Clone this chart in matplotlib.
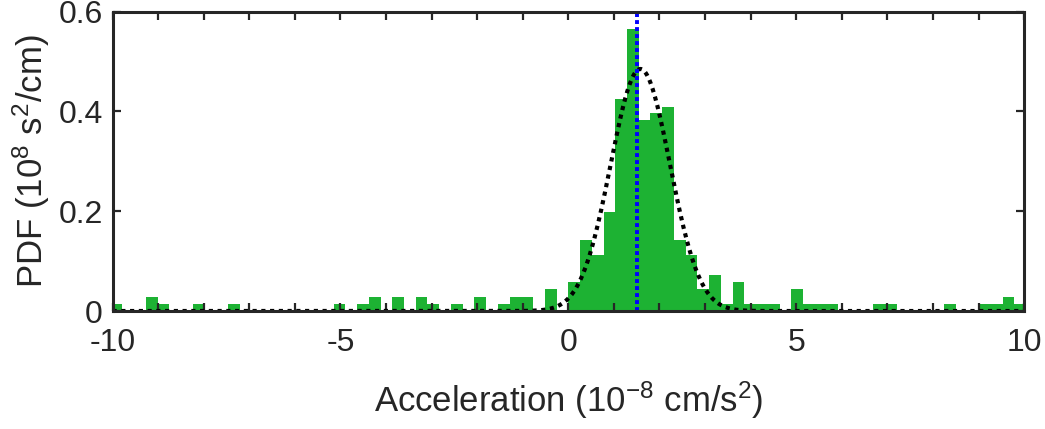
import numpy as np
import matplotlib
matplotlib.use("Agg")
from matplotlib import pyplot as plt
from matplotlib.ticker import MultipleLocator, FuncFormatter

plt.rcParams['font.family'] = ['Liberation Sans', 'DejaVu Sans']
plt.rcParams['mathtext.default'] = 'regular'
plt.rcParams['axes.unicode_minus'] = False

# Histogram bins (10^-8 cm/s^2) and PDF heights
BIN_WIDTH = 0.2575
BIN_INDEX = np.arange(-39, 39)
PDF = [
    0.0145, 0, 0, 0.029, 0.0145, 0, 0, 0.0145, 0, 0,          # -39 .. -30
    0.0145, 0, 0, 0, 0, 0, 0, 0, 0, 0.0145,                    # -29 .. -20
    0, 0.0145, 0.029, 0, 0.029, 0, 0.029, 0.0145, 0, 0.0145,   # -19 .. -10
    0, 0.029, 0, 0.0145, 0.029, 0.029, 0, 0.0435, 0,           # -9 .. -1
    0.058, 0.142, 0.113, 0.199, 0.424, 0.565, 0.382, 0.396,    # 0 .. 7
    0.409, 0.142, 0.113, 0.0435, 0.072, 0.0145, 0.058,         # 8 .. 14
    0.0145, 0.0145, 0.0145, 0, 0.0435, 0.0145, 0.0145, 0.0145, # 15 .. 22
    0, 0, 0, 0.0145, 0.0145, 0, 0, 0, 0, 0.0145,               # 23 .. 32
    0, 0, 0.0145, 0.0145, 0.029, 0.0145,                       # 33 .. 38
]

# Normal fit drawn over the histogram, and the mean marker
FIT_PEAK = 0.485
FIT_MEAN = 1.58
FIT_SIGMA = 0.65
MEAN_LINE = 1.5

GREEN = '#1db233'
AXIS_COLOR = '#262626'

fig = plt.figure(figsize=(10.45, 4.29), dpi=100)
ax = fig.add_axes([0.1077, 0.275, 0.8723, 0.698])

left_edges = BIN_INDEX * BIN_WIDTH
ax.bar(left_edges, PDF, width=BIN_WIDTH, align='edge', color=GREEN,
       edgecolor='none', linewidth=0, zorder=1)

xs = np.linspace(-10, 10, 801)
fit = FIT_PEAK * np.exp(-(xs - FIT_MEAN) ** 2 / (2 * FIT_SIGMA ** 2))
ax.plot(xs, fit, color='black', linewidth=3.0, linestyle=(0, (1, 1.1)), zorder=3)

ax.plot([MEAN_LINE, MEAN_LINE], [0, 0.6], color='blue', linewidth=2.8,
        linestyle=(0, (1, 0.8)), zorder=4)

ax.set_xlim(-10, 10)
ax.set_ylim(0, 0.6)
ax.xaxis.set_major_locator(MultipleLocator(1))
ax.xaxis.set_major_formatter(FuncFormatter(lambda v, p: f"{v:.0f}" if round(v) % 5 == 0 else ""))
ax.yaxis.set_major_locator(MultipleLocator(0.2))
ax.yaxis.set_major_formatter(FuncFormatter(lambda v, p: "0" if abs(v) < 1e-9 else f"{v:.1f}"))

ax.tick_params(direction='in', length=6, width=1.6, colors=AXIS_COLOR,
               labelsize=23, top=True, right=True)
ax.tick_params(axis='x', pad=12)
ax.tick_params(axis='y', pad=7)
for s in ax.spines.values():
    s.set_linewidth(2.2)
    s.set_color(AXIS_COLOR)
    s.set_zorder(5)

ax.set_xlabel("Acceleration (10$^{-8}$ cm/s$^2$)", fontsize=25, color=AXIS_COLOR, labelpad=16)
ax.set_ylabel("PDF (10$^8$ s$^2$/cm)", fontsize=25, color=AXIS_COLOR, labelpad=5)

fig.savefig("out.png", dpi=100)
